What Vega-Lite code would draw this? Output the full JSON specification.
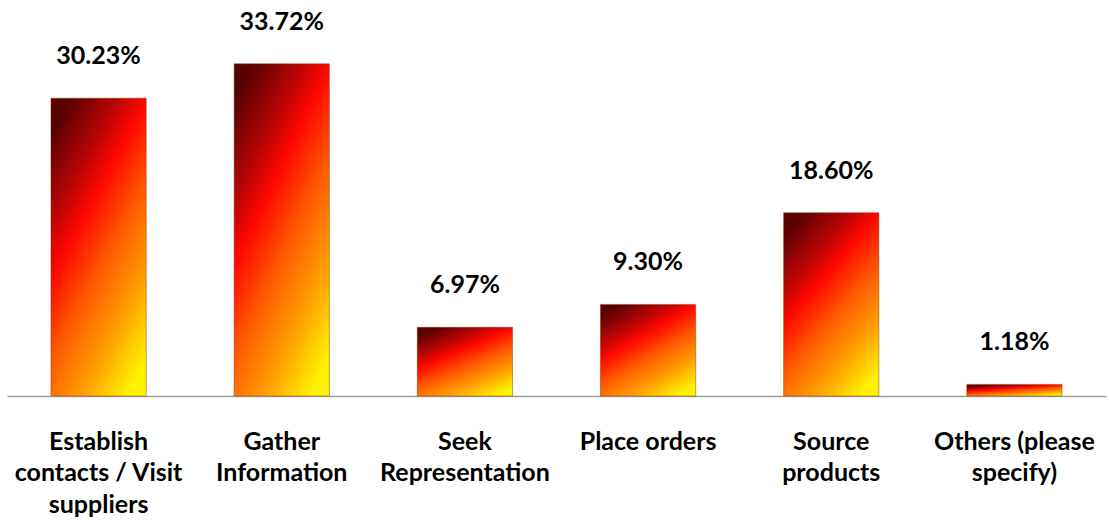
{
  "$schema": "https://vega.github.io/schema/vega-lite/v6.json",
  "width": 1099,
  "height": 394,
  "autosize": {"type": "none"},
  "padding": {"left": 7, "right": 3, "top": 2, "bottom": 127},
  "background": "white",
  "config": {"view": {"stroke": null}, "font": "Lato"},
  "data": {
    "values": [
      {"category": "Establish\ncontacts / Visit\nsuppliers", "share": 0.3023},
      {"category": "Gather\nInformation", "share": 0.3372},
      {"category": "Seek\nRepresentation", "share": 0.0697},
      {"category": "Place orders", "share": 0.093},
      {"category": "Source\nproducts", "share": 0.186},
      {"category": "Others (please\nspecify)", "share": 0.0118}
    ]
  },
  "encoding": {
    "x": {
      "field": "category",
      "type": "nominal",
      "sort": null,
      "scale": {"paddingInner": 0.48, "paddingOuter": 0.24},
      "axis": {
        "title": null,
        "labelAngle": 0,
        "labelAlign": "center",
        "labelBaseline": "top",
        "labelFont": "Lato",
        "labelFontSize": 25,
        "labelFontWeight": "bold",
        "labelColor": "#000000",
        "labelLineHeight": 31.5,
        "labelPadding": 33,
        "labelLimit": 300,
        "labelExpr": "split(datum.label, '\\n')",
        "ticks": false,
        "domainColor": "#a0a0a0",
        "domainWidth": 1.5,
        "grid": false
      }
    },
    "y": {
      "field": "share",
      "type": "quantitative",
      "scale": {"domain": [0, 0.4], "nice": false},
      "axis": null
    }
  },
  "layer": [
    {
      "mark": {
        "type": "bar",
        "stroke": "#7a3d00",
        "strokeWidth": 0.8,
        "strokeOpacity": 0.6,
        "fill": {
          "gradient": "linear",
          "x1": 0.2, "y1": 0, "x2": 0.8, "y2": 1,
          "stops": [
            {"offset": 0, "color": "#5a0000"},
            {"offset": 0.2, "color": "#b00404"},
            {"offset": 0.36, "color": "#ff0800"},
            {"offset": 0.56, "color": "#ff5800"},
            {"offset": 0.8, "color": "#ffa400"},
            {"offset": 1, "color": "#fff200"}
          ]
        }
      }
    },
    {
      "mark": {
        "type": "text",
        "font": "Lato",
        "fontSize": 25,
        "fontWeight": "bold",
        "color": "#000000",
        "baseline": "alphabetic",
        "dy": -34
      },
      "encoding": {
        "text": {"field": "share", "type": "quantitative", "format": ".2%"}
      }
    }
  ]
}
